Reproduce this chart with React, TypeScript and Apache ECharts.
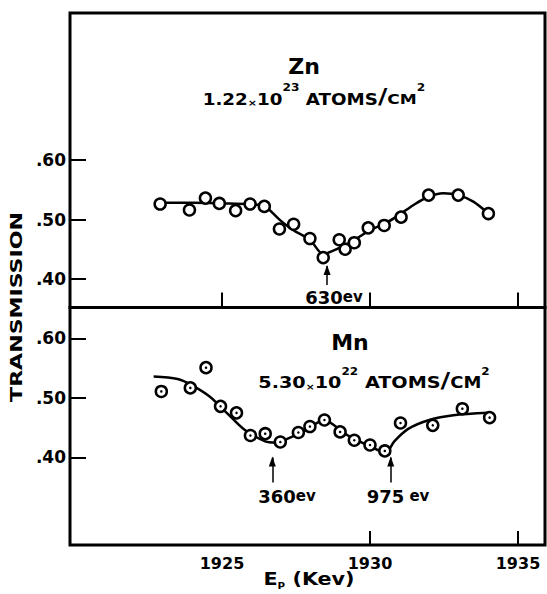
import React, { useEffect, useRef } from "react";
import * as echarts from "echarts";

// Zn panel (measured points)
const energyZn = [1922.91, 1923.9, 1924.44, 1924.91, 1925.46, 1925.95, 1926.43, 1926.94, 1927.42, 1927.97, 1928.42, 1928.96, 1929.16, 1929.47, 1929.94, 1930.48, 1931.05, 1931.98, 1932.98, 1934.0];
const transZn = [0.526, 0.516, 0.536, 0.527, 0.515, 0.526, 0.522, 0.484, 0.492, 0.468, 0.436, 0.466, 0.45, 0.461, 0.486, 0.49, 0.504, 0.541, 0.541, 0.51];
// Zn fitted curve
const curveZnE = [1922.9, 1924, 1925, 1925.95, 1926.45, 1926.96, 1927.41, 1927.97, 1928.42, 1928.76, 1929.1, 1929.55, 1930, 1930.56, 1931.01, 1931.46, 1931.92, 1932.48, 1932.98, 1933.49, 1934];
const curveZnT = [0.528, 0.528, 0.527, 0.5255, 0.5216, 0.499, 0.482, 0.466, 0.442, 0.4476, 0.4555, 0.468, 0.482, 0.4947, 0.5087, 0.524, 0.537, 0.544, 0.541, 0.53, 0.51];
// arrow marking the 630 eV resonance
const arrowZn = [1928.55];
const arrowZnSpan = [0.39, 0.422];

// Mn panel (measured points)
const energyMn = [1922.95, 1923.93, 1924.46, 1924.95, 1925.49, 1925.96, 1926.46, 1926.97, 1927.58, 1927.97, 1928.46, 1928.99, 1929.47, 1930.0, 1930.5, 1931.03, 1932.12, 1933.12, 1934.04];
const transMn = [0.511, 0.517, 0.551, 0.486, 0.475, 0.437, 0.44, 0.426, 0.442, 0.452, 0.463, 0.443, 0.429, 0.421, 0.411, 0.458, 0.454, 0.482, 0.467];
// Mn fitted curve
const curveMnE = [1922.69, 1923.5, 1923.93, 1924.57, 1925.16, 1925.75, 1926.46, 1926.81, 1927.28, 1927.87, 1928.46, 1928.82, 1929.29, 1930.0, 1930.53, 1930.82, 1931.29, 1932.0, 1932.82, 1934.0];
const curveMnT = [0.536, 0.532, 0.523, 0.503, 0.475, 0.447, 0.427, 0.425, 0.433, 0.447, 0.463, 0.453, 0.436, 0.419, 0.408, 0.427, 0.448, 0.463, 0.471, 0.475];
// arrows marking the 360 eV and 975 eV resonances
const arrowMn = [1926.7, 1930.7];
const arrowMnSpan = [0.358, 0.4];

const yTicks = [0.4, 0.5, 0.6];
const xLabels = [1925, 1930, 1935];
const xTicksTop = [1925, 1930, 1935];
const xTicksBottom = [1930, 1935];

const FONT = "DejaVu Sans";

export default function App() {
  const ref = useRef<HTMLDivElement>(null);
  useEffect(() => {
    if (!ref.current) return;
    const chart = echarts.init(ref.current, null, { renderer: "svg" });
    const zip = (a: number[], b: number[]) => a.map((v, i) => [v, b[i]]);
    const xMin = 1919.865;
    const xMax = 1935.912;
    const gridStyle = { show: true, borderColor: "#000", borderWidth: 3, backgroundColor: "transparent" };
    const yAxisBase = (min: number, max: number, gi: number) => ({
      type: "value",
      gridIndex: gi,
      min,
      max,
      axisLine: { show: false },
      splitLine: { show: false },
      axisTick: { show: true, inside: true, length: 16, customValues: yTicks, lineStyle: { color: "#000", width: 2 } },
      axisLabel: {
        show: true,
        customValues: yTicks,
        margin: 4,
        color: "#000",
        fontFamily: FONT,
        fontWeight: "bold",
        fontSize: 17,
        formatter: (v: number) => "." + Math.round(v * 100),
      },
    });
    const circle = {
      color: "#fff",
      borderColor: "#000",
      borderWidth: 2.5,
      opacity: 1,
    };
    const arrowShaft = (xs: number[], span: number[]) => ({
      silent: true,
      symbol: ["none", "none"],
      lineStyle: { color: "#000", width: 1.5, type: "solid", opacity: 1 },
      label: { show: false },
      emphasis: { disabled: true },
      data: xs.map((e) => [{ coord: [e, span[0]] }, { coord: [e, span[1]] }]),
    });
    const arrowHead = (xs: number[], span: number[], xi: number) => ({
      type: "scatter",
      xAxisIndex: xi,
      yAxisIndex: xi,
      data: xs.map((e) => [e, span[1]]),
      symbol: "triangle",
      symbolSize: [7, 10],
      symbolOffset: [0, 4],
      itemStyle: { color: "#000", opacity: 1 },
      silent: true,
      z: 5,
    });
    const base = { fontFamily: FONT, fontWeight: "bold", fill: "#000" } as any;
    const subRich = (n: number) => ({
      n: { fontFamily: FONT, fontWeight: "bold", fontSize: n, verticalAlign: "bottom", lineHeight: 20 },
      x: { fontFamily: FONT, fontWeight: "bold", fontSize: 9, verticalAlign: "bottom", lineHeight: 18 },
      s: { fontFamily: FONT, fontWeight: "bold", fontSize: 10, verticalAlign: "top", lineHeight: 14 },
      l: { fontFamily: FONT, fontWeight: "bold", fontSize: n + 6, verticalAlign: "bottom", lineHeight: 24 },
      c: { fontFamily: FONT, fontWeight: "bold", fontSize: n - 1, verticalAlign: "bottom", lineHeight: 16 },
    });
    const evRich = {
      a: { fontFamily: FONT, fontWeight: "bold", fontSize: 18 },
      b: { fontFamily: FONT, fontWeight: "bold", fontSize: 15 },
    };
    chart.setOption({
      animation: false,
      backgroundColor: "#fff",
      grid: [
        { left: 70, top: 13, width: 475, height: 294.5, ...gridStyle },
        { left: 70, top: 307.5, width: 475, height: 237.5, ...gridStyle },
      ],
      xAxis: [
        {
          type: "value",
          gridIndex: 0,
          min: xMin,
          max: xMax,
          axisLine: { show: false },
          splitLine: { show: false },
          axisTick: { show: true, inside: true, length: 15, customValues: xTicksTop, lineStyle: { color: "#000", width: 2 } },
          axisLabel: { show: false },
        },
        {
          type: "value",
          gridIndex: 1,
          min: xMin,
          max: xMax,
          axisLine: { show: false },
          splitLine: { show: false },
          axisTick: { show: true, inside: true, length: 14, customValues: xTicksBottom, lineStyle: { color: "#000", width: 2 } },
          axisLabel: {
            show: true,
            customValues: xLabels,
            margin: 10,
            color: "#000",
            fontFamily: FONT,
            fontWeight: "bold",
            fontSize: 16,
            formatter: (v: number) => String(v),
          },
        },
      ],
      yAxis: [yAxisBase(0.3521, 0.8471, 0), yAxisBase(0.2529, 0.6521, 1)],
      series: [
        {
          type: "line",
          xAxisIndex: 0,
          yAxisIndex: 0,
          data: zip(curveZnE, curveZnT),
          smooth: 0.3,
          showSymbol: false,
          lineStyle: { color: "#000", width: 2.5 },
          z: 2,
          markLine: arrowShaft(arrowZn, arrowZnSpan),
        },
        {
          type: "scatter",
          xAxisIndex: 0,
          yAxisIndex: 0,
          data: zip(energyZn, transZn),
          symbol: "circle",
          symbolSize: 11,
          itemStyle: circle,
          z: 3,
        },
        arrowHead(arrowZn, arrowZnSpan, 0),
        {
          type: "line",
          xAxisIndex: 1,
          yAxisIndex: 1,
          data: zip(curveMnE, curveMnT),
          smooth: 0.3,
          showSymbol: false,
          lineStyle: { color: "#000", width: 2.5 },
          z: 2,
          markLine: arrowShaft(arrowMn, arrowMnSpan),
        },
        {
          type: "scatter",
          xAxisIndex: 1,
          yAxisIndex: 1,
          data: zip(energyMn, transMn),
          symbol: "circle",
          symbolSize: 11,
          itemStyle: circle,
          z: 3,
        },
        {
          type: "scatter",
          xAxisIndex: 1,
          yAxisIndex: 1,
          data: zip(energyMn, transMn),
          symbol: "circle",
          symbolSize: 2.5,
          itemStyle: { color: "#000", opacity: 1 },
          z: 4,
        },
        arrowHead(arrowMn, arrowMnSpan, 1),
      ],
      graphic: [
        { type: "text", x: 304, y: 66, style: { ...base, text: "Zn", fontSize: 22, align: "center", verticalAlign: "middle" } },
        {
          type: "text",
          x: 314,
          y: 95,
          scaleX: 1.22,
          style: {
            ...base,
            align: "center",
            verticalAlign: "middle",
            text: "{n|1.22}{x|×}{n|10}{s|23}{n| ATOMS}{l|/}{c|CM}{s|2}",
            rich: subRich(15),
          },
        },
        { type: "text", x: 350, y: 342, style: { ...base, text: "Mn", fontSize: 22, align: "center", verticalAlign: "middle" } },
        {
          type: "text",
          x: 374,
          y: 379,
          scaleX: 1.2,
          style: {
            ...base,
            align: "center",
            verticalAlign: "middle",
            text: "{n|5.30}{x|×}{n|10}{s|22}{n| ATOMS}{l|/}{c|CM}{s|2}",
            rich: subRich(16),
          },
        },
        {
          type: "text",
          x: 17,
          y: 307,
          rotation: Math.PI / 2,
          scaleX: 1.38,
          style: { ...base, text: "TRANSMISSION", fontSize: 16, align: "center", verticalAlign: "middle" },
        },
        {
          type: "text",
          x: 334,
          y: 297,
          style: { ...base, align: "center", verticalAlign: "middle", text: "{a|630}{b|ev}", rich: evRich },
        },
        {
          type: "text",
          x: 287,
          y: 496,
          style: { ...base, align: "center", verticalAlign: "middle", text: "{a|360}{b|ev}", rich: evRich },
        },
        {
          type: "text",
          x: 398,
          y: 496,
          style: { ...base, align: "center", verticalAlign: "middle", text: "{a|975}{b| ev}", rich: evRich },
        },
        {
          type: "text",
          x: 309,
          y: 580,
          scaleX: 1.15,
          style: {
            ...base,
            align: "center",
            verticalAlign: "middle",
            text: "{a|E}{p|P}{a| (Kev)}",
            rich: {
              a: { fontFamily: FONT, fontWeight: "bold", fontSize: 18, verticalAlign: "top", lineHeight: 20 },
              p: { fontFamily: FONT, fontWeight: "bold", fontSize: 9, verticalAlign: "bottom", lineHeight: 21 },
            },
          },
        },
      ],
    });
    return () => chart.dispose();
  }, []);
  return (
    <div
      ref={ref}
      style={{ position: "absolute", left: 0, top: 0, width: 547, height: 594, background: "#fff" }}
    />
  );
}
